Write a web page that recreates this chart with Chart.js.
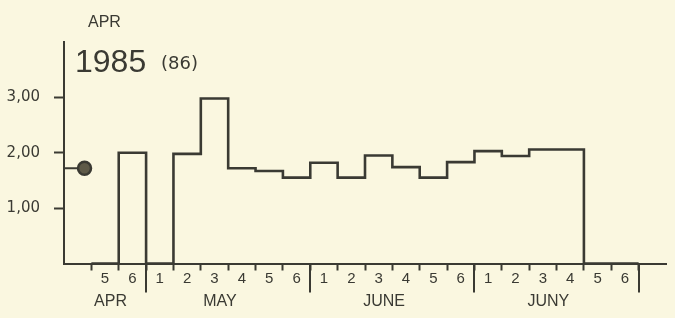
<!DOCTYPE html>
<html>
<head>
<meta charset="utf-8">
<script src="https://cdn.jsdelivr.net/npm/chart.js@4"></script>
<style>
  html, body { margin: 0; padding: 0; background: #faf7e0; }
  #wrap { width: 675px; height: 318px; }
</style>
</head>
<body>
<div id="wrap"><canvas id="myChart"></canvas></div>
<script>
// week numbers inside each month, and the months they belong to
const weekLabels = ['5', '6', '1', '2', '3', '4', '5', '6', '1', '2', '3', '4', '5', '6', '1', '2', '3', '4', '5', '6'];
const monthLabels = ['APR', 'MAY', 'JUNE', 'JUNY'];
const weeksPerMonth = [2, 6, 6, 6];
// weekly values (0 = no value)
const weekValues = [0, 2.00, 0, 1.98, 2.98, 1.72, 1.67, 1.55, 1.82, 1.55, 1.95, 1.74, 1.55, 1.83, 2.03, 1.94, 2.06, 2.06, 0, 0];
const startValue = 1.72;
const yTickValues = [1, 2, 3];
const yTickLabels = ['1,00', '2,00', '3,00'];

const ink = '#3a3a33';
const font = "'Liberation Sans', 'DejaVu Sans', sans-serif";
const wideFont = "'DejaVu Sans', sans-serif";

const stepData = weekValues.map((v, i) => ({ x: i, y: v }));
stepData.push({ x: weekValues.length, y: 0 });

const extras = {
    id: 'extras',
    afterDraw(chart) {
        const ctx = chart.ctx;
        const x = chart.scales.x;
        const area = chart.chartArea;
        ctx.save();
        ctx.fillStyle = ink;
        ctx.strokeStyle = ink;

        // month dividers
        ctx.lineWidth = 2;
        let b = 0;
        weeksPerMonth.forEach(n => {
            b += n;
            const px = Math.round(x.getPixelForValue(b));
            ctx.beginPath();
            ctx.moveTo(px, area.bottom);
            ctx.lineTo(px, area.bottom + 29);
            ctx.stroke();
        });

        // week numbers
        ctx.font = '15px ' + font;
        ctx.textAlign = 'center';
        ctx.textBaseline = 'middle';
        weekLabels.forEach((t, i) => {
            ctx.fillText(t, x.getPixelForValue(i + 0.5), area.bottom + 15);
        });

        // month names
        ctx.font = '16px ' + font;
        let s = 0;
        monthLabels.forEach((m, i) => {
            const mid = s + weeksPerMonth[i] / 2 - 0.3;
            ctx.fillText(m, x.getPixelForValue(mid), area.bottom + 38);
            s += weeksPerMonth[i];
        });

        // heading
        ctx.textAlign = 'left';
        ctx.textBaseline = 'alphabetic';
        ctx.font = '16px ' + font;
        ctx.fillText('APR', 88, 27);
        ctx.font = '32px ' + font;
        ctx.fillText('1985', 75, 72);
        ctx.font = '18px ' + wideFont;
        ctx.fillText('(86)', 161, 69);
        ctx.restore();
    }
};

const ctx = document.getElementById('myChart').getContext('2d');
const myChart = new Chart(ctx, {
    type: 'line',
    data: {
        datasets: [{
            data: stepData,
            stepped: 'before',
            borderColor: ink,
            borderWidth: 2.6,
            pointRadius: 0,
            fill: false
        }, {
            data: [{ x: -1, y: startValue }, { x: -0.25, y: startValue }],
            borderColor: ink,
            borderWidth: 2,
            pointRadius: [0, 6.5],
            pointBorderWidth: 2.5,
            pointBackgroundColor: '#5e5a48',
            pointBorderColor: '#3a3a33'
        }]
    },
    options: {
        responsive: true,
        maintainAspectRatio: false,
        animation: false,
        layout: { padding: { top: 42, right: 1, left: 0, bottom: 0 } },
        plugins: { legend: { display: false }, tooltip: { enabled: false } },
        scales: {
            x: {
                type: 'linear',
                min: -1,
                max: 21,
                afterBuildTicks: scale => {
                    scale.ticks = weekLabels.map((_, i) => ({ value: i })).concat({ value: weekLabels.length });
                },
                afterFit: scale => { scale.height = 54.5; },
                ticks: { display: false },
                grid: { drawOnChartArea: false, drawTicks: true, tickLength: 7, tickColor: ink, tickWidth: 2 },
                border: { display: true, color: ink, width: 2 }
            },
            y: {
                min: 0,
                max: 4,
                afterBuildTicks: scale => {
                    scale.ticks = yTickValues.map(v => ({ value: v }));
                },
                afterFit: scale => { scale.width = 64; },
                ticks: {
                    padding: 14,
                    color: ink,
                    font: { family: wideFont, size: 15 },
                    callback: (v, i) => yTickLabels[i]
                },
                grid: { drawOnChartArea: false, drawTicks: true, tickLength: 10, tickColor: ink, tickWidth: 2 },
                border: { display: true, color: ink, width: 2 }
            }
        }
    },
    plugins: [extras]
});
</script>
</body>
</html>
